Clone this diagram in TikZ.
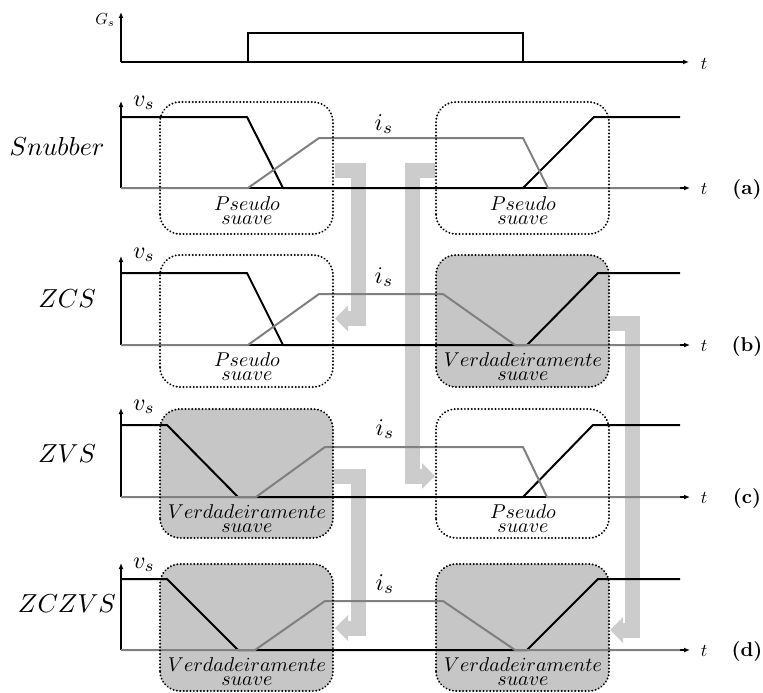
\documentclass[tikz,border=0pt]{standalone}
\usetikzlibrary{arrows.meta}
\definecolor{curgray}{RGB}{128,128,128}
\definecolor{boxfill}{RGB}{198,198,198}
\definecolor{arrgray}{RGB}{204,204,204}
\newcommand{\bxl}[1]{\scalebox{2.0}[2.0]{$#1$}}
\newcommand{\rwl}[1]{\scalebox{2.6}{$#1$}}
\newcommand{\sgl}[1]{\scalebox{2.4}{$#1$}}
\newcommand{\tml}{\scalebox{1.8}{$t$}}
\newcommand{\ltl}[1]{\scalebox{2.0}{\bfseries #1}}
\begin{document}
\begin{tikzpicture}[x=1pt,y=-1pt,
  sig/.style={line width=2pt, line join=round},
  volt/.style={sig, black},
  curr/.style={sig, curgray},
  axisline/.style={line width=1.3pt, -{Latex[length=6pt,width=5pt]}},
  boxnode/.style={draw=none, inner sep=0pt, outer sep=0pt, rounded corners=20pt,
     minimum width=173pt},
  filledbox/.style={boxnode, fill=boxfill},
  dotborder/.style={draw=black, line width=2.1pt, dash pattern=on 0.1pt off 3.3pt,
     line cap=round, rounded corners=20pt},
  bigarr/.style={draw=arrgray, line width=15pt, line join=miter,
     -{Triangle[width=25pt,length=13pt]}},
  boxlab/.style={anchor=base, inner sep=0pt},
]
\useasboundingbox (0,0) rectangle (763,693);

% ---------- boxes (fill) ----------
\node[boxnode]   (aL) at (246.5,168)   [minimum height=132pt] {};
\node[boxnode]   (aR) at (522.5,168)   [minimum height=132pt] {};
\node[boxnode]   (bL) at (246.5,321)   [minimum height=132pt] {};
\node[filledbox] (bR) at (522.5,321)   [minimum height=132pt] {};
\node[filledbox] (cL) at (246.5,473.5) [minimum height=129pt] {};
\node[boxnode]   (cR) at (522.5,473.5) [minimum height=129pt] {};
\node[filledbox] (dL) at (246.5,627.5) [minimum height=127pt] {};
\node[filledbox] (dR) at (522.5,627.5) [minimum height=127pt] {};

% ---------- big gray arrows ----------
\coordinate (a1s) at (335,170);
\coordinate (a1e) at (335,318.5);
\draw[bigarr] (a1s) -- (358.5,170) -- (358.5,318.5) -- (a1e);
\coordinate (a2s) at (435,170);
\coordinate (a2e) at (435,476);
\draw[bigarr] (a2s) -- (412.5,170) -- (412.5,476) -- (a2e);
\coordinate (a3s) at (609,323);
\coordinate (a3e) at (610,630);
\draw[bigarr] (a3s) -- (632.5,323) -- (632.5,630) -- (a3e);
\coordinate (a4s) at (334,476);
\coordinate (a4e) at (335,628);
\draw[bigarr] (a4s) -- (358.5,476) -- (358.5,628) -- (a4e);

% ---------- top gate signal ----------
\coordinate (g0) at (121,62);
\draw[axisline] (g0) -- (689,62);
\draw[axisline] (g0) -- (121,12);
\draw[line width=2pt] (g0) -- (248,62) -- (248,33) -- (523,33) -- (523,62);
\node (gs) at (105,20) {\scalebox{1.6}{$G_s$}};
\node (tg) at (704,64) {\tml};

% ---------- row a ----------
\draw[axisline] (121,188) -- (690,188);
\draw[axisline] (121,188) -- (121,101);
\draw[volt] (121,117) -- (247,117) -- (283,188) -- (523,188) -- (594,117) -- (680,117);
\draw[curr] (121,188) -- (248,188) -- (319,138) -- (523,138) -- (548,188) -- (680,188);
\node (va) at (144,103) {\sgl{v_s}};
\node (ia) at (384,124) {\sgl{i_s}};
\node (ra) at (57,146) {\rwl{Snubber}};
\node (ta) at (704,189) {\tml};
\node (la) at (747,189) {\ltl{(a)}};

% ---------- row b ----------
\draw[axisline] (121,345) -- (690,345);
\draw[axisline] (121,345) -- (121,256);
\draw[volt] (121,273) -- (247,273) -- (283,345) -- (527,345) -- (598,273) -- (680,273);
\draw[curr] (121,345) -- (248,345) -- (319,294) -- (443,294) -- (515,345) -- (680,345);
\node (vb) at (144,255) {\sgl{v_s}};
\node (ib) at (384,277) {\sgl{i_s}};
\node (rb) at (67,299) {\rwl{ZCS}};
\node (tb) at (704,346) {\tml};
\node (lb) at (747,346) {\ltl{(b)}};

% ---------- row c ----------
\draw[axisline] (121,497) -- (690,497);
\draw[axisline] (121,497) -- (121,408);
\draw[volt] (121,425) -- (167,425) -- (238,497) -- (523,497) -- (593,425) -- (680,425);
\draw[curr] (121,497) -- (256,497) -- (325,447) -- (523,447) -- (547,497) -- (680,497);
\node (vc) at (144,407) {\sgl{v_s}};
\node (ic) at (385,429) {\sgl{i_s}};
\node (rc) at (67,454) {\rwl{ZVS}};
\node (tc) at (704,498) {\tml};
\node (lc) at (747,498) {\ltl{(c)}};

% ---------- row d ----------
\draw[axisline] (121,650) -- (690,650);
\draw[axisline] (121,650) -- (121,563);
\draw[volt] (121,579) -- (167,579) -- (238,650) -- (527,650) -- (598,579) -- (680,579);
\draw[curr] (121,650) -- (255,650) -- (325,601) -- (443,601) -- (515,650) -- (680,650);
\node (vd) at (144,565) {\sgl{v_s}};
\node (id) at (385,584) {\sgl{i_s}};
\node (rd) at (67,604) {\rwl{ZCZVS}};
\node (td) at (704,651) {\tml};
\node (ld) at (747,651) {\ltl{(d)}};

% ---------- dotted borders ----------
\foreach \b in {aL,aR,bL,bR,cL,cR,dL,dR}
  \draw[dotborder] (\b.south west) rectangle (\b.north east);

% ---------- box labels ----------
\node[boxlab] (pa1) at (247,210) {\bxl{Pseudo}};
\node[boxlab] (pa2) at (247,224) {\bxl{suave}};
\node[boxlab] (pa3) at (523,210) {\bxl{Pseudo}};
\node[boxlab] (pa4) at (523,224) {\bxl{suave}};
\node[boxlab] (pb1) at (247,366) {\bxl{Pseudo}};
\node[boxlab] (pb2) at (247,380) {\bxl{suave}};
\node[boxlab] (pb3) at (523,366) {\bxl{Verdadeiramente}};
\node[boxlab] (pb4) at (523,380) {\bxl{suave}};
\node[boxlab] (pc1) at (247,518) {\bxl{Verdadeiramente}};
\node[boxlab] (pc2) at (247,532) {\bxl{suave}};
\node[boxlab] (pc3) at (523,518) {\bxl{Pseudo}};
\node[boxlab] (pc4) at (523,532) {\bxl{suave}};
\node[boxlab] (pd1) at (247,671) {\bxl{Verdadeiramente}};
\node[boxlab] (pd2) at (247,685) {\bxl{suave}};
\node[boxlab] (pd3) at (523,671) {\bxl{Verdadeiramente}};
\node[boxlab] (pd4) at (523,685) {\bxl{suave}};
\end{tikzpicture}
\end{document}
